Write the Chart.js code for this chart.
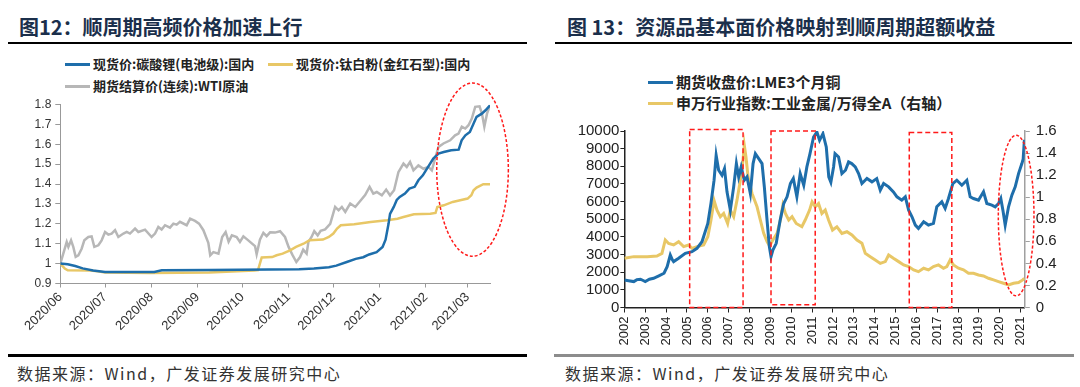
<!DOCTYPE html>
<html>
<head>
<meta charset="utf-8">
<script src="https://cdn.jsdelivr.net/npm/chart.js@4.4.0/dist/chart.umd.min.js"></script>
<style>
body{margin:0;width:1080px;height:387px;background:#fff;position:relative;overflow:hidden;font-family:"Noto Sans CJK SC",sans-serif;}
.title{position:absolute;top:12px;font-size:20px;font-weight:bold;color:#1b2f4b;white-space:nowrap;line-height:30px;}
.rule{position:absolute;height:2px;background:#000;}
.lg{position:absolute;font-weight:bold;color:#222;white-space:nowrap;line-height:16px;}
.lg i{display:inline-block;width:25px;height:3px;vertical-align:middle;margin-right:3px;position:relative;top:-1px;}
.src{position:absolute;top:361px;font-size:16px;letter-spacing:1.5px;color:#333;white-space:nowrap;}
canvas{position:absolute;}
</style>
</head>
<body>
<div class="title" style="left:19px">图12：顺周期高频价格加速上行</div>
<div class="rule" style="left:8px;top:42px;width:519px"></div>
<div class="title" style="left:567px">图 13：资源品基本面价格映射到顺周期超额收益</div>
<div class="rule" style="left:555px;top:42px;width:517px"></div>
<div id="legendLeft"></div>
<div id="legendRight"></div>
<canvas id="leftChart" width="540" height="285" style="left:0;top:70px"></canvas>
<canvas id="rightChart" width="540" height="255" style="left:540px;top:100px"></canvas>
<div class="rule" style="left:8px;top:354px;width:519px;height:3px"></div>
<div class="rule" style="left:554px;top:354px;width:520px;height:3px;background:#8c8c8c"></div>
<div class="src" style="left:17px">数据来源：Wind，广发证券发展研究中心</div>
<div class="src" style="left:565px">数据来源：Wind，广发证券发展研究中心</div>
<script>
// 图12 — days counted from 2020-06-01
const monthDays = [0, 30, 61, 92, 122, 153, 183, 214, 245, 273];
const monthLabels = ['2020/06', '2020/07', '2020/08', '2020/09', '2020/10', '2020/11', '2020/12', '2021/01', '2021/02', '2021/03'];
const leftNames = ['现货价:碳酸锂(电池级):国内', '现货价:钛白粉(金红石型):国内', '期货结算价(连续):WTI原油'];

const lithiumDays = [0, 5, 10, 15, 22, 30, 63, 68, 100, 140, 160, 170, 180, 185, 192, 198, 203, 207, 212, 216, 218, 220, 221, 223.5, 225.5, 227.5, 231, 234, 237.5, 240, 243, 246.5, 250, 253.5, 257, 262, 267, 269, 271.5, 274.5, 277, 279, 282.5, 285, 288];
const lithiumPrice = [1.0, 0.997, 0.988, 0.976, 0.965, 0.958, 0.958, 0.967, 0.968, 0.97, 0.972, 0.975, 0.982, 0.99, 1.008, 1.024, 1.032, 1.046, 1.058, 1.084, 1.12, 1.2, 1.25, 1.285, 1.32, 1.335, 1.352, 1.377, 1.386, 1.419, 1.444, 1.486, 1.528, 1.553, 1.561, 1.57, 1.573, 1.62, 1.645, 1.662, 1.704, 1.738, 1.754, 1.771, 1.796];

const titaniumDays = [0, 3, 5, 20, 25, 30, 60, 100, 115, 130, 132.5, 135, 142, 145, 149, 154, 158, 163, 167, 176, 180, 183, 185.5, 188, 197, 208, 219, 226, 230, 237, 248, 251.5, 252.7, 257, 263, 268, 273, 275.5, 277, 279, 283.5, 288];
const titaniumPrice = [1.0, 0.975, 0.966, 0.965, 0.961, 0.955, 0.953, 0.955, 0.96, 0.965, 0.967, 1.031, 1.033, 1.042, 1.05, 1.067, 1.084, 1.1, 1.117, 1.121, 1.134, 1.151, 1.176, 1.193, 1.198, 1.209, 1.218, 1.226, 1.234, 1.248, 1.251, 1.255, 1.285, 1.293, 1.31, 1.319, 1.327, 1.344, 1.369, 1.382, 1.399, 1.399];

const wtiDays = [0, 2, 4.3, 5.4, 7.2, 8.7, 10.3, 12.1, 14.3, 16.1, 18.8, 21, 22.8, 25.5, 27.7, 30, 32.2, 34.4, 36.7, 38.9, 42.3, 44.5, 46.7, 50.1, 52.3, 56.8, 61.2, 63.5, 65.7, 67.9, 70.2, 73.5, 75.8, 78, 80.2, 84.7, 87, 90.3, 93, 95.9, 99.2, 100.5, 102.6, 106, 108.5, 110.8, 112.8, 115, 118.2, 120.4, 122.7, 126, 130.5, 131.6, 133.8, 136.1, 138.3, 140.6, 143.9, 147.3, 150.6, 153, 155.5, 158.2, 160.7, 162.8, 165.1, 166.3, 168.4, 170.2, 172.5, 174.5, 177.5, 180.9, 184.2, 186.5, 188.7, 191, 194.3, 197.7, 201, 204.3, 207.3, 209.8, 212.1, 215.5, 218.4, 221, 223.7, 226.6, 230, 232.2, 234.4, 236.7, 240, 243.4, 246.7, 249, 251.2, 253.5, 256.8, 261.3, 264.6, 266.9, 269.1, 271.4, 273.6, 275.8, 278.1, 281, 282.6, 284.2, 286, 287.8];
const wtiPrice = [1.0, 1.05, 1.109, 1.084, 1.117, 1.084, 1.034, 1.042, 1.075, 1.117, 1.134, 1.137, 1.084, 1.092, 1.117, 1.159, 1.146, 1.151, 1.168, 1.134, 1.151, 1.159, 1.151, 1.176, 1.159, 1.171, 1.134, 1.151, 1.184, 1.171, 1.193, 1.181, 1.201, 1.196, 1.21, 1.193, 1.226, 1.215, 1.201, 1.168, 1.105, 1.042, 1.058, 1.05, 1.134, 1.159, 1.11, 1.142, 1.134, 1.109, 1.137, 1.117, 1.088, 1.047, 1.12, 1.155, 1.138, 1.157, 1.156, 1.163, 1.134, 1.084, 1.045, 1.008, 1.033, 1.07, 1.05, 1.109, 1.134, 1.163, 1.142, 1.165, 1.172, 1.2, 1.285, 1.268, 1.285, 1.26, 1.302, 1.285, 1.315, 1.345, 1.386, 1.352, 1.36, 1.343, 1.372, 1.343, 1.369, 1.46, 1.503, 1.486, 1.511, 1.469, 1.494, 1.477, 1.486, 1.469, 1.528, 1.587, 1.604, 1.62, 1.645, 1.654, 1.688, 1.679, 1.696, 1.729, 1.788, 1.791, 1.754, 1.688, 1.754, 1.791];

// 图13
const yearTicks = [2002, 2003, 2004, 2005, 2006, 2007, 2008, 2009, 2010, 2011, 2012, 2013, 2014, 2015, 2016, 2017, 2018, 2019, 2020, 2021];
const rightNames = ['期货收盘价:LME3个月铜', '申万行业指数:工业金属/万得全A（右轴）'];

const copperYears = [2002.0, 2002.2, 2002.45, 2002.6, 2002.77, 2002.9, 2003.0, 2003.2, 2003.4, 2003.65, 2003.9, 2004.05, 2004.2, 2004.3, 2004.36, 2004.6, 2004.92, 2005.24, 2005.48, 2005.72, 2006.0, 2006.15, 2006.3, 2006.4, 2006.52, 2006.68, 2006.8, 2006.92, 2007.08, 2007.24, 2007.37, 2007.48, 2007.6, 2007.75, 2007.88, 2008.04, 2008.17, 2008.28, 2008.44, 2008.6, 2008.71, 2008.84, 2008.95, 2009.03, 2009.12, 2009.28, 2009.47, 2009.64, 2009.8, 2009.96, 2010.1, 2010.27, 2010.43, 2010.6, 2010.75, 2010.9, 2011.07, 2011.23, 2011.36, 2011.52, 2011.68, 2011.8, 2011.9, 2012.03, 2012.1, 2012.27, 2012.43, 2012.6, 2012.75, 2012.9, 2013.07, 2013.23, 2013.39, 2013.63, 2013.87, 2014.1, 2014.27, 2014.43, 2014.67, 2014.9, 2015.07, 2015.3, 2015.47, 2015.63, 2015.79, 2015.95, 2016.1, 2016.35, 2016.58, 2016.82, 2016.98, 2017.22, 2017.38, 2017.54, 2017.75, 2017.94, 2018.18, 2018.42, 2018.58, 2018.74, 2018.98, 2019.22, 2019.38, 2019.62, 2019.78, 2019.94, 2020.05, 2020.15, 2020.26, 2020.42, 2020.58, 2020.74, 2020.9, 2021.06, 2021.12, 2021.18];
const copperPrice = [1563, 1520, 1470, 1580, 1600, 1530, 1470, 1600, 1657, 1790, 1940, 2316, 2975, 2700, 2600, 2787, 3070, 3163, 3350, 3728, 4764, 5894, 7212, 8624, 7777, 7494, 7870, 6553, 5517, 6835, 8153, 7400, 7965, 7212, 7400, 6459, 8153, 8718, 8436, 8153, 6835, 4952, 3446, 2881, 3258, 3634, 4952, 5894, 6270, 7024, 7306, 6270, 7589, 6929, 7965, 8718, 9660, 9942, 9472, 9848, 9095, 7400, 7100, 7965, 8718, 8530, 7589, 7777, 8247, 8153, 7965, 7589, 7024, 7306, 7118, 7306, 6647, 7024, 6835, 6553, 6270, 6082, 6270, 5517, 5141, 4670, 4482, 4858, 4670, 4764, 5705, 5988, 5611, 6176, 7024, 7212, 6929, 7212, 6270, 6176, 6082, 6553, 5894, 5800, 5705, 5894, 6176, 5517, 4670, 5705, 6364, 6835, 7589, 8153, 8400, 9500];

const ratioYears = [2002.0, 2002.45, 2003.09, 2003.56, 2003.8, 2003.96, 2004.12, 2004.36, 2004.6, 2004.84, 2005.08, 2005.24, 2005.48, 2005.8, 2006.0, 2006.15, 2006.3, 2006.44, 2006.6, 2006.76, 2006.95, 2007.08, 2007.24, 2007.4, 2007.56, 2007.67, 2007.75, 2007.83, 2007.93, 2008.12, 2008.36, 2008.52, 2008.68, 2008.84, 2008.96, 2009.12, 2009.32, 2009.48, 2009.6, 2009.72, 2009.88, 2010.04, 2010.24, 2010.51, 2010.67, 2010.88, 2011.0, 2011.15, 2011.31, 2011.47, 2011.63, 2011.79, 2011.98, 2012.19, 2012.43, 2012.67, 2012.91, 2013.15, 2013.39, 2013.55, 2013.79, 2014.03, 2014.27, 2014.51, 2014.67, 2014.9, 2015.15, 2015.39, 2015.63, 2015.87, 2016.1, 2016.35, 2016.58, 2016.82, 2017.06, 2017.3, 2017.46, 2017.62, 2017.78, 2018.02, 2018.26, 2018.5, 2018.74, 2018.98, 2019.22, 2019.46, 2019.7, 2019.94, 2020.18, 2020.42, 2020.66, 2020.9, 2021.1, 2021.18];
const ratioValue = [0.446, 0.461, 0.461, 0.467, 0.49, 0.612, 0.58, 0.567, 0.597, 0.552, 0.567, 0.536, 0.552, 0.567, 0.642, 0.79, 0.97, 0.883, 0.823, 0.853, 0.762, 0.883, 0.823, 0.973, 1.154, 1.305, 1.47, 1.365, 1.184, 1.034, 0.913, 0.793, 0.672, 0.597, 0.558, 0.612, 0.672, 0.793, 0.928, 0.853, 0.793, 0.823, 0.762, 0.732, 0.793, 0.883, 0.958, 0.913, 0.943, 0.853, 0.883, 0.793, 0.702, 0.732, 0.672, 0.687, 0.657, 0.612, 0.582, 0.491, 0.461, 0.431, 0.4, 0.416, 0.476, 0.446, 0.416, 0.386, 0.371, 0.341, 0.325, 0.356, 0.341, 0.371, 0.386, 0.356, 0.371, 0.431, 0.386, 0.356, 0.341, 0.31, 0.31, 0.295, 0.286, 0.265, 0.25, 0.235, 0.22, 0.205, 0.22, 0.226, 0.25, 0.265];

const blue = '#1e6eab', gold = '#e8c766', grey = '#b7b7b7', red = '#ff1a1a';

function toPoints(xs, ys) {
    return xs.map((x, i) => ({ x: x, y: ys[i] }));
}

function buildLegend(id, names, colors, rows, fontSize) {
    const box = document.getElementById(id);
    names.forEach((name, i) => {
        const d = document.createElement('div');
        d.className = 'lg';
        d.style.left = rows[i][0] + 'px';
        d.style.top = (rows[i][1] - 8) + 'px';
        d.style.fontSize = fontSize + 'px';
        d.innerHTML = '<i style="background:' + colors[i] + '"></i>' + name;
        box.appendChild(d);
    });
}

buildLegend('legendLeft', leftNames, [blue, gold, grey], [[65, 64], [268, 64], [65, 86]], 13);
buildLegend('legendRight', rightNames, [blue, gold], [[648, 82], [648, 103]], 15);

// red dashed frames drawn on top of the lines
const frames = {
    id: 'frames',
    afterDatasetsDraw(chart, args, opts) {
        const ctx = chart.ctx;
        const xs = chart.scales.x, ys = chart.scales[opts.yAxis];
        ctx.save();
        ctx.strokeStyle = red;
        ctx.lineWidth = 1.5;
        (opts.boxes || []).forEach(b => {
            ctx.setLineDash([5, 3]);
            const x1 = xs.getPixelForValue(b[0]), x2 = xs.getPixelForValue(b[1]);
            const y1 = ys.getPixelForValue(b[2]), y2 = ys.getPixelForValue(b[3]);
            ctx.strokeRect(x1, y1, x2 - x1, y2 - y1);
        });
        (opts.ellipses || []).forEach(e => {
            ctx.setLineDash([3, 2]);
            const x1 = xs.getPixelForValue(e[0]), x2 = xs.getPixelForValue(e[1]);
            const y1 = ys.getPixelForValue(e[2]), y2 = ys.getPixelForValue(e[3]);
            ctx.beginPath();
            ctx.ellipse((x1 + x2) / 2, (y1 + y2) / 2, Math.abs(x2 - x1) / 2, Math.abs(y2 - y1) / 2, 0, 0, Math.PI * 2);
            ctx.stroke();
        });
        ctx.restore();
    }
};

const tickFont = { family: 'Arial, "Liberation Sans"', size: 12 };
const dateFont = { family: 'Arial, "Liberation Sans"', size: 13 };
const bigFont = { family: 'Arial, "Liberation Sans"', size: 15 };

new Chart(document.getElementById('leftChart'), {
    type: 'line',
    data: {
        datasets: [
            { label: leftNames[0], data: toPoints(lithiumDays, lithiumPrice), borderColor: blue, borderWidth: 2.5 },
            { label: leftNames[1], data: toPoints(titaniumDays, titaniumPrice), borderColor: gold, borderWidth: 2.5 },
            { label: leftNames[2], data: toPoints(wtiDays, wtiPrice), borderColor: grey, borderWidth: 2.5 }
        ]
    },
    options: {
        responsive: false,
        animation: false,
        elements: { point: { radius: 0 }, line: { tension: 0 } },
        layout: { padding: { left: 0, right: 50, top: 34.5, bottom: 0 } },
        plugins: {
            legend: { display: false },
            tooltip: { enabled: false },
            frames: { yAxis: 'y', ellipses: [[252.3, 300.3, 1.908, 1.037]] }
        },
        scales: {
            x: {
                type: 'linear', min: 0, max: 288,
                afterBuildTicks: s => { s.ticks = monthDays.map(v => ({ value: v })); },
                afterFit: s => { s.height = 71.5; },
                grid: { display: true, drawOnChartArea: false, drawTicks: true, tickLength: 4, color: '#999' },
                border: { display: true, color: '#999' },
                ticks: {
                    autoSkip: false, minRotation: 45, maxRotation: 45, padding: 2,
                    color: '#333', font: dateFont,
                    callback: v => monthLabels[monthDays.indexOf(v)]
                }
            },
            y: {
                min: 0.9, max: 1.8,
                afterFit: s => { s.width = 60.3; },
                grid: { display: true, drawOnChartArea: false, drawTicks: true, tickLength: 5, color: '#999' },
                border: { display: true, color: '#999' },
                ticks: { stepSize: 0.1, padding: 4, color: '#333', font: tickFont, callback: v => String(+v.toFixed(1)) }
            }
        }
    },
    plugins: [frames]
});

new Chart(document.getElementById('rightChart'), {
    type: 'line',
    data: {
        datasets: [
            { label: rightNames[0], data: toPoints(copperYears, copperPrice), borderColor: blue, borderWidth: 3, yAxisID: 'y' },
            { label: rightNames[1], data: toPoints(ratioYears, ratioValue), borderColor: gold, borderWidth: 3, yAxisID: 'y1' }
        ]
    },
    options: {
        responsive: false,
        animation: false,
        elements: { point: { radius: 0 }, line: { tension: 0 } },
        layout: { padding: { left: 0, right: 0, top: 31, bottom: 0 } },
        plugins: {
            legend: { display: false },
            tooltip: { enabled: false },
            frames: {
                yAxis: 'y',
                boxes: [[2005.13, 2007.69, 10080, 0], [2009.03, 2011.15, 10000, 150], [2015.66, 2017.7, 9910, 0]],
                ellipses: [[2019.93, 2021.64, 9760, 660]]
            }
        },
        scales: {
            x: {
                type: 'linear', min: 2002, max: 2021.2,
                afterBuildTicks: s => { s.ticks = yearTicks.map(v => ({ value: v })); },
                afterFit: s => { s.height = 47.5; },
                grid: { display: true, drawOnChartArea: false, drawTicks: true, tickLength: 5, color: '#222' },
                border: { display: true, color: '#222', width: 1.5 },
                ticks: { autoSkip: false, minRotation: 90, maxRotation: 90, padding: 4, color: '#222', font: { family: 'Arial, "Liberation Sans"', size: 13 }, callback: v => String(v) }
            },
            y: {
                position: 'left', min: 0, max: 10000,
                afterFit: s => { s.width = 84.4; },
                grid: { display: true, drawOnChartArea: false, drawTicks: true, tickLength: 4, color: '#222' },
                border: { display: true, color: '#222', width: 1.5 },
                ticks: { stepSize: 1000, autoSkip: false, padding: 1, color: '#222', font: bigFont, callback: v => String(v) }
            },
            y1: {
                position: 'right', min: 0, max: 1.6,
                afterFit: s => { s.width = 55.2; },
                grid: { display: true, drawOnChartArea: false, drawTicks: true, tickLength: 5, color: '#a0a0a0' },
                border: { display: true, color: '#a0a0a0', width: 1.5 },
                ticks: { stepSize: 0.2, autoSkip: false, padding: 6, color: '#222', font: bigFont, callback: v => String(+v.toFixed(1)) }
            }
        }
    },
    plugins: [frames]
});
</script>
</body>
</html>
